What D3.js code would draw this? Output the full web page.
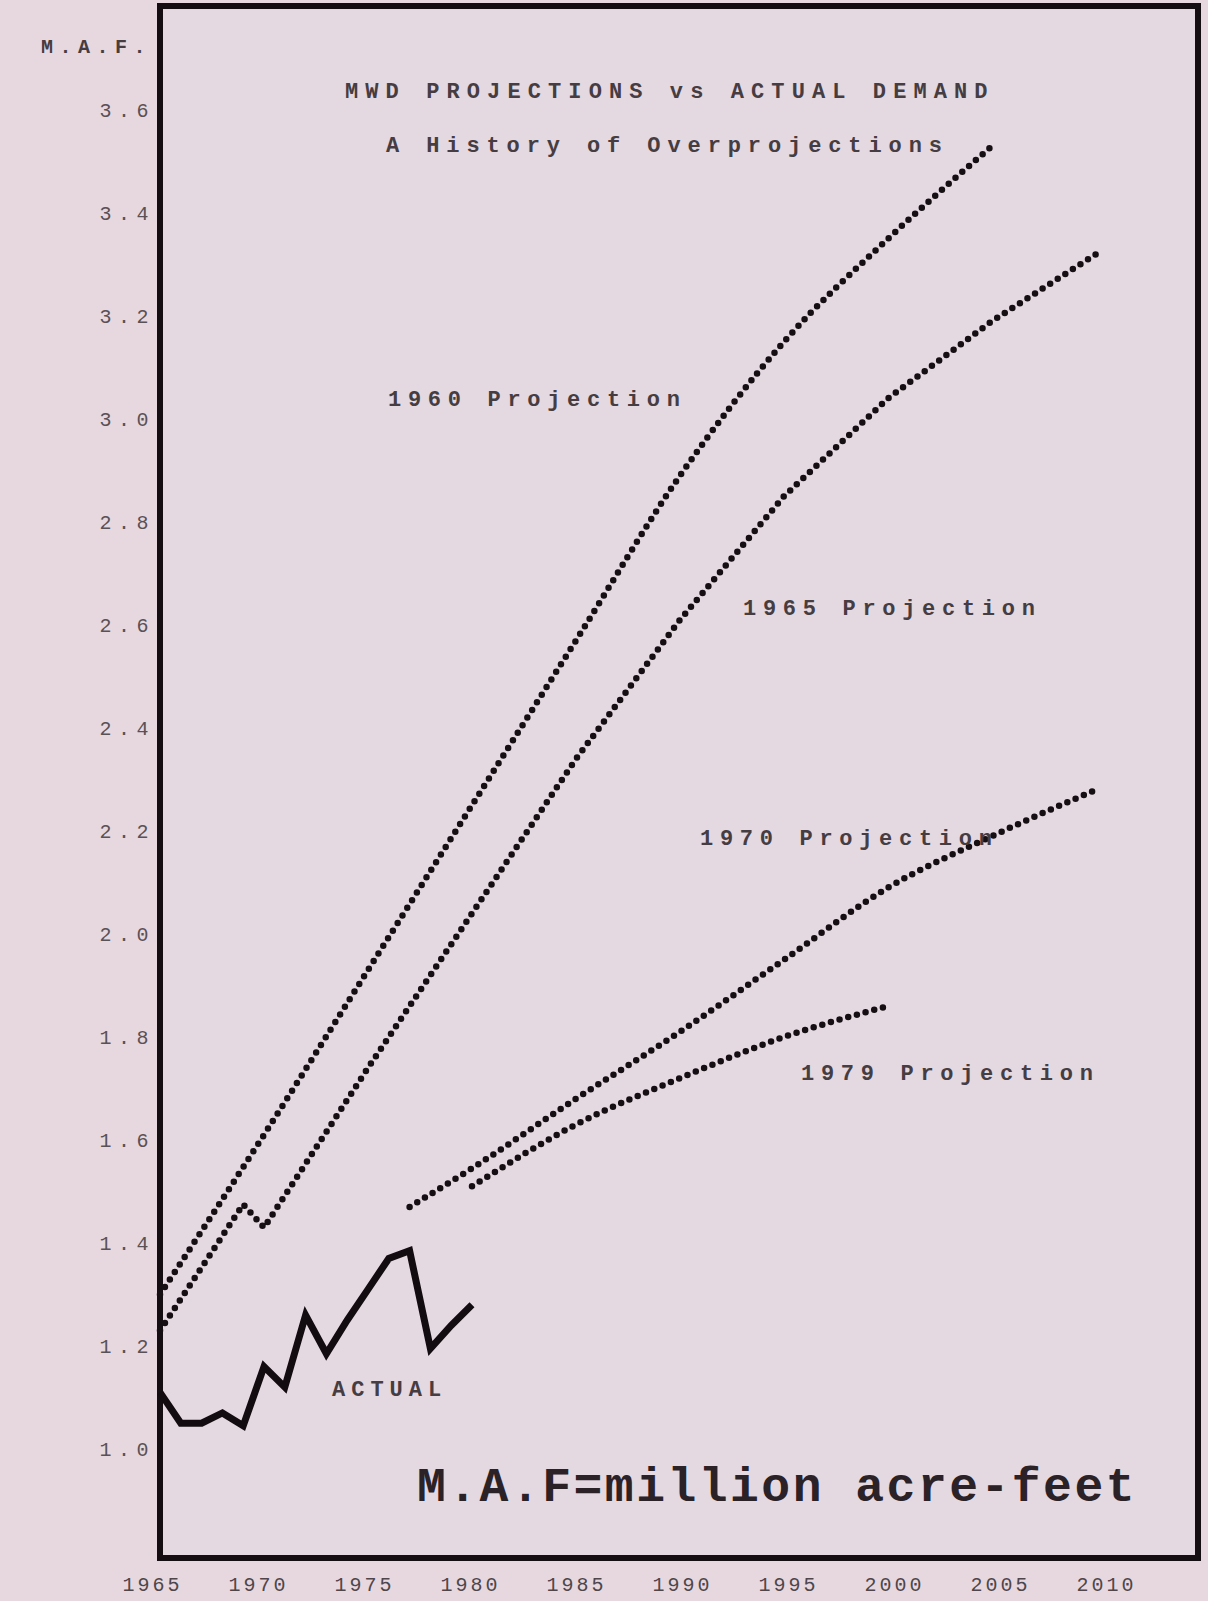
<!DOCTYPE html>
<html lang="en">
<head>
    <meta charset="UTF-8">
    <title>MWD Projections vs Actual Demand</title>
    <script src="https://d3js.org/d3.v7.min.js"></script>
    <style>
        body {
            margin: 0;
            background: #e7d8df;
        }
        svg {
            display: block;
        }
        .typed {
            font-family: "Liberation Mono", "DejaVu Sans Mono", monospace;
            font-size: 22px;
            fill: #3a3237;
        }
    </style>
</head>
<body>

<div id="chart"></div>

<script>
    // data (million acre-feet)
    const xTickYears = [1965, 1970, 1975, 1980, 1985, 1990, 1995, 2000, 2005, 2010];
    const yTickValues = [1.0, 1.2, 1.4, 1.6, 1.8, 2.0, 2.2, 2.4, 2.6, 2.8, 3.0, 3.2, 3.4, 3.6];

    const actualYears = [1965, 1966, 1967, 1968, 1969, 1970, 1971, 1972, 1973, 1974, 1975, 1976, 1977, 1978, 1979, 1980];
    const actualValues = [1.11, 1.05, 1.05, 1.07, 1.045, 1.16, 1.12, 1.26, 1.185, 1.25, 1.31, 1.37, 1.385, 1.195, 1.24, 1.28];

    const proj1960Years = [1965, 1970, 1975, 1980, 1985, 1990, 1995, 2000, 2005];
    const proj1960Values = [1.30, 1.61, 1.93, 2.25, 2.57, 2.89, 3.15, 3.35, 3.53];

    const proj1965Years = [1965, 1969, 1970, 1975, 1980, 1985, 1990, 1995, 2000, 2005, 2010];
    const proj1965Values = [1.23, 1.475, 1.43, 1.74, 2.04, 2.34, 2.61, 2.85, 3.04, 3.19, 3.32];

    const proj1970Years = [1977, 1980, 1985, 1990, 1995, 2000, 2005, 2010];
    const proj1970Values = [1.47, 1.545, 1.68, 1.81, 1.95, 2.09, 2.19, 2.28];

    const proj1979Years = [1980, 1985, 1990, 1995, 2000];
    const proj1979Values = [1.51, 1.63, 1.72, 1.80, 1.86];

    const width = 1208, height = 1601;
    const frame = {left: 160, top: 6, right: 1198, bottom: 1558};

    const svg = d3.select("#chart").append("svg")
        .attr("width", width)
        .attr("height", height);

    svg.append("rect")
        .attr("width", width).attr("height", height)
        .attr("fill", "#e7d8df");

    const x = d3.scaleLinear().domain([1965, 2010]).range([160, 1096]);
    const y = d3.scaleLinear().domain([1.0, 3.6]).range([1449, 110]);
    // the typed year labels sit a little apart from the plotted scale
    const xLabels = d3.scaleLinear().domain([1965, 2010]).range([152, 1106]);

    // plot frame
    svg.append("rect")
        .attr("x", frame.left).attr("y", frame.top)
        .attr("width", frame.right - frame.left)
        .attr("height", frame.bottom - frame.top)
        .attr("fill", "#e4d8e1")
        .attr("stroke", "#140e12")
        .attr("stroke-width", 6);

    // axes, labels only
    const yAxis = svg.append("g")
        .attr("transform", "translate(155,0)")
        .call(d3.axisLeft(y).tickValues(yTickValues).tickFormat(d3.format(".1f")).tickSize(0).tickPadding(0));
    yAxis.select(".domain").remove();
    yAxis.selectAll("text")
        .attr("class", "typed")
        .attr("fill", null)
        .style("font-size", "20px")
        .style("letter-spacing", "6.5px")
        .style("fill", "#5a5156");

    const xAxis = svg.append("g")
        .attr("transform", "translate(0,1577)")
        .call(d3.axisBottom(xLabels).tickValues(xTickYears).tickFormat(d3.format("d")).tickSize(0).tickPadding(0));
    xAxis.select(".domain").remove();
    xAxis.selectAll("text")
        .attr("class", "typed")
        .attr("fill", null)
        .style("font-size", "20px")
        .style("letter-spacing", "3px")
        .style("fill", "#4e464b");

    // projection lines (dotted)
    const smoothLine = d3.line()
        .x(d => x(d[0]))
        .y(d => y(d[1]))
        .curve(d3.curveMonotoneX);
    const straightLine = d3.line()
        .x(d => x(d[0]))
        .y(d => y(d[1]));

    const projections = [
        {pts: d3.zip(proj1960Years, proj1960Values), line: smoothLine},
        {pts: d3.zip(proj1965Years, proj1965Values), line: straightLine},
        {pts: d3.zip(proj1970Years, proj1970Values), line: smoothLine},
        {pts: d3.zip(proj1979Years, proj1979Values), line: smoothLine}
    ];

    svg.append("g").selectAll("path")
        .data(projections)
        .join("path")
        .attr("d", d => d.line(d.pts))
        .attr("fill", "none")
        .attr("stroke", "#150f13")
        .attr("stroke-width", 6.5)
        .attr("stroke-linecap", "round")
        .attr("stroke-linejoin", "round")
        .attr("stroke-dasharray", "0 9");

    // actual demand (solid)
    svg.append("path")
        .datum(d3.zip(actualYears, actualValues))
        .attr("d", straightLine)
        .attr("fill", "none")
        .attr("stroke", "#120c10")
        .attr("stroke-width", 7)
        .attr("stroke-linejoin", "miter");

    // typed annotations
    const labels = [
        {text: "M.A.F.", x: 152, y: 48, anchor: "end", ls: 6.5, size: 20},
        {text: "MWD PROJECTIONS vs ACTUAL DEMAND", x: 345, y: 92, anchor: "start", ls: 7.1, size: 22},
        {text: "A History of Overprojections", x: 386, y: 146, anchor: "start", ls: 6.9, size: 22},
        {text: "1960 Projection", x: 388, y: 400, anchor: "start", ls: 6.7, size: 22},
        {text: "1965 Projection", x: 743, y: 609, anchor: "start", ls: 6.7, size: 22},
        {text: "1970 Projection", x: 700, y: 839, anchor: "start", ls: 6.7, size: 22},
        {text: "1979 Projection", x: 801, y: 1074, anchor: "start", ls: 6.7, size: 22},
        {text: "ACTUAL", x: 332, y: 1390, anchor: "start", ls: 6.0, size: 22}
    ];

    svg.append("g").selectAll("text")
        .data(labels)
        .join("text")
        .attr("class", "typed")
        .attr("x", d => d.x)
        .attr("y", d => d.y)
        .attr("text-anchor", d => d.anchor)
        .attr("dominant-baseline", "middle")
        .style("font-size", d => d.size + "px")
        .style("font-weight", "bold")
        .style("fill", "#453d42")
        .style("letter-spacing", d => d.ls + "px")
        .text(d => d.text);

    svg.append("text")
        .attr("x", 417)
        .attr("y", 1488)
        .attr("dominant-baseline", "middle")
        .style("font-family", "'Liberation Mono', 'Courier New', monospace")
        .style("font-weight", "bold")
        .style("font-size", "48px")
        .style("letter-spacing", "2.5px")
        .style("fill", "#2a2227")
        .text("M.A.F=million acre-feet");
</script>

</body>
</html>
